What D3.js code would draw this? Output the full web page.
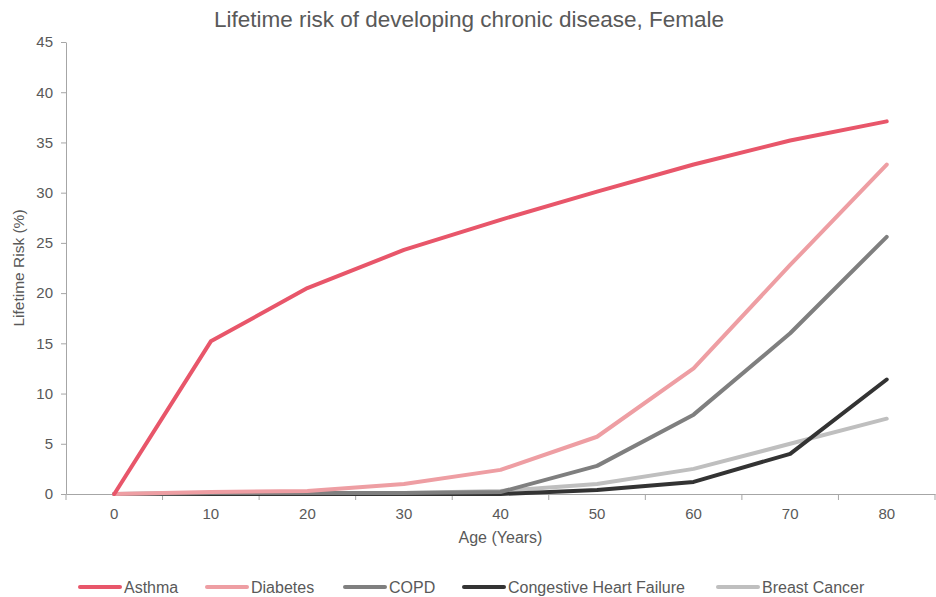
<!DOCTYPE html>
<html>
<head>
<meta charset="utf-8">
<script src="https://cdn.jsdelivr.net/npm/d3@7"></script>
<style>
  body { margin: 0; background: #fff; }
  svg { display: block; font-family: "Liberation Sans", Arial, sans-serif; }
</style>
</head>
<body>
<svg id="chart" width="936" height="597"></svg>
<script>
// Age groups (categories on the x axis)
const ages = ["0", "10", "20", "30", "40", "50", "60", "70", "80"];

// Lifetime risk (%) per disease, female
const asthma   = [0, 15.2, 20.5, 24.3, 27.3, 30.1, 32.8, 35.2, 37.1];
const diabetes = [0, 0.2, 0.3, 1.0, 2.4, 5.7, 12.5, 22.8, 32.8];
const copd     = [0, 0.1, 0.1, 0.1, 0.2, 2.8, 7.9, 16.0, 25.6];
const chf      = [0, 0, 0, 0, 0, 0.4, 1.2, 4.0, 11.4];
const breast   = [0, 0, 0, 0.1, 0.3, 1.0, 2.5, 5.0, 7.5];

const yTicks = [0, 5, 10, 15, 20, 25, 30, 35, 40, 45];

const seriesNames  = ["Asthma", "Diabetes", "COPD", "Congestive Heart Failure", "Breast Cancer"];
const seriesValues = [asthma, diabetes, copd, chf, breast];
const seriesColors = ["#E8566A", "#EE9EA3", "#7F7F7F", "#333333", "#BFBFBF"];

const series = seriesNames.map((name, i) => ({ name, values: seriesValues[i], color: seriesColors[i] }));

const svg = d3.select("#chart");
const plotLeft = 66, plotRight = 935, plotTop = 42, plotBottom = 494;

const x = d3.scaleBand().domain(ages).range([plotLeft, plotRight]).padding(0);
const y = d3.scaleLinear().domain([0, 45]).range([plotBottom, plotTop]);

const axisColor = "#A6A6A6";
const textColor = "#595959";

// Title
svg.append("text")
  .attr("x", 469).attr("y", 27)
  .attr("text-anchor", "middle")
  .attr("font-size", 22.5)
  .attr("fill", textColor)
  .text("Lifetime risk of developing chronic disease, Female");

// Y axis
const yAxis = svg.append("g")
  .attr("transform", `translate(${plotLeft},0)`)
  .call(d3.axisLeft(y).tickValues(yTicks).tickSize(5).tickPadding(8).tickSizeOuter(0));
yAxis.select(".domain").attr("stroke", axisColor);
yAxis.selectAll(".tick line").attr("stroke", axisColor);
yAxis.selectAll(".tick text")
  .attr("fill", textColor)
  .attr("font-size", 15)
  .attr("font-family", "Liberation Sans, Arial, sans-serif");

// X axis with ticks between categories
const xAxis = svg.append("g")
  .attr("transform", `translate(0,${plotBottom})`)
  .call(d3.axisBottom(x).tickSize(0).tickPadding(14));
xAxis.select(".domain").attr("stroke", axisColor);
xAxis.selectAll(".tick text")
  .attr("fill", textColor)
  .attr("font-size", 15)
  .attr("font-family", "Liberation Sans, Arial, sans-serif");
const bounds = ages.map(a => x(a)).concat([x(ages[ages.length - 1]) + x.bandwidth()]);
xAxis.selectAll(".sep")
  .data(bounds)
  .enter().append("line")
  .attr("class", "sep")
  .attr("x1", d => d).attr("x2", d => d)
  .attr("y1", 0).attr("y2", 6)
  .attr("stroke", axisColor);

// Axis titles
svg.append("text")
  .attr("x", (plotLeft + plotRight) / 2).attr("y", 543)
  .attr("text-anchor", "middle")
  .attr("font-size", 16)
  .attr("fill", textColor)
  .text("Age (Years)");

svg.append("text")
  .attr("transform", `translate(24,${(plotTop + plotBottom) / 2}) rotate(-90)`)
  .attr("text-anchor", "middle")
  .attr("font-size", 15.5)
  .attr("fill", textColor)
  .text("Lifetime Risk (%)");

// Lines (drawn last-to-first so Asthma sits on top)
const line = d3.line()
  .x((d, i) => x(ages[i]) + x.bandwidth() / 2)
  .y(d => y(d));

svg.append("g").selectAll("path")
  .data(series.slice().reverse())
  .enter().append("path")
  .attr("d", d => line(d.values))
  .attr("fill", "none")
  .attr("stroke", d => d.color)
  .attr("stroke-width", 4)
  .attr("stroke-linejoin", "round")
  .attr("stroke-linecap", "round");

// Legend
const legendX = [80, 207, 345, 464, 718];
const legend = svg.append("g").selectAll("g")
  .data(series)
  .enter().append("g")
  .attr("transform", (d, i) => `translate(${legendX[i]},587)`);
legend.append("line")
  .attr("x1", 0).attr("x2", 40)
  .attr("y1", 0).attr("y2", 0)
  .attr("stroke", d => d.color)
  .attr("stroke-width", 4)
  .attr("stroke-linecap", "round");
legend.append("text")
  .attr("x", 44).attr("y", 6)
  .attr("font-size", 16)
  .attr("fill", textColor)
  .text(d => d.name);
</script>
</body>
</html>
